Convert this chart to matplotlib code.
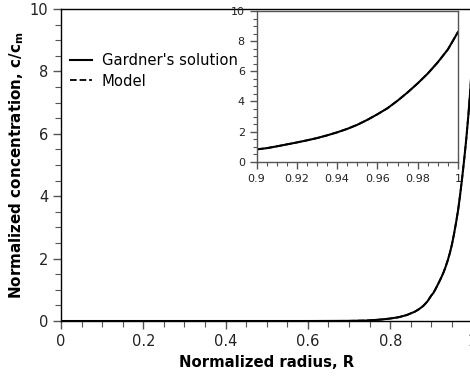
import matplotlib
matplotlib.use('Agg')
import matplotlib.pyplot as plt
from matplotlib.ticker import MultipleLocator, FuncFormatter

plt.rcParams['font.family'] = ['DejaVu Sans']

# 径向归一化浓度分布 (读数)
r_gardner = [0.0, 0.1, 0.2, 0.3, 0.4, 0.5, 0.6, 0.70, 0.72, 0.74, 0.76, 0.78,
             0.80, 0.82, 0.84, 0.86, 0.87, 0.88, 0.89, 0.895, 0.900,
             0.905, 0.910, 0.915, 0.920, 0.925, 0.930, 0.935, 0.940, 0.945,
             0.950, 0.955, 0.960, 0.965, 0.970, 0.975, 0.980, 0.985, 0.990,
             0.995, 1.000]
c_gardner = [0.0, 0.0, 0.0, 0.0, 0.0, 0.0, 0.0, 0.005, 0.01, 0.015, 0.03, 0.05,
             0.08, 0.12, 0.19, 0.30, 0.38, 0.48, 0.62, 0.72, 0.82,
             0.90, 1.02, 1.15, 1.28, 1.42, 1.57, 1.75, 1.95, 2.18,
             2.45, 2.78, 3.15, 3.55, 4.05, 4.60, 5.20, 5.85, 6.60,
             7.45, 8.60]

r_model = list(r_gardner)
c_model = list(c_gardner)

x_ticks = [0, 0.2, 0.4, 0.6, 0.8, 1.0]
y_ticks = [0, 2, 4, 6, 8, 10]
inset_x_ticks = [0.9, 0.92, 0.94, 0.96, 0.98, 1.0]


def fmt(v, pos):
    return f'{v:g}'


fig = plt.figure(figsize=(4.7, 3.77), dpi=100)
ax = fig.add_axes([0.1298, 0.1485, 0.8755, 0.8276])

ax.plot(r_gardner, c_gardner, '-', color='black', lw=1.5, label="Gardner's solution")
ax.plot(r_model, c_model, '--', color='black', lw=1.3, label='Model')

ax.set_xlim(0, 1)
ax.set_ylim(0, 10)
ax.set_xticks(x_ticks)
ax.set_yticks(y_ticks)
ax.xaxis.set_major_formatter(FuncFormatter(fmt))
ax.xaxis.set_minor_locator(MultipleLocator(0.05))
ax.yaxis.set_minor_locator(MultipleLocator(0.5))
ax.tick_params(which='both', direction='out', color='#555555', labelcolor='#222222',
               labelsize=10.5)
ax.tick_params(which='major', length=5.5, width=1)
ax.tick_params(which='minor', length=4, width=0.8)
ax.spines['right'].set_visible(False)
for s in ['left', 'top', 'bottom']:
    ax.spines[s].set_color('black')
    ax.spines[s].set_linewidth(1.0)

ax.set_xlabel('Normalized radius, R', fontsize=10.7, fontweight='bold', labelpad=5)
ax.set_ylabel(r'Normalized concentration, c/c$_\mathbf{m}$', fontsize=10.9,
              fontweight='bold', labelpad=3)

ax.legend(loc='upper left', bbox_to_anchor=(-0.01, 0.90), frameon=False,
          fontsize=10.6, handlelength=1.5, handletextpad=0.65, labelspacing=0.35)

# 局部放大 R = 0.9 ~ 1
ins = fig.add_axes([0.546, 0.571, 0.4283, 0.3997])
ins.plot(r_gardner, c_gardner, '-', color='black', lw=1.5)
ins.plot(r_model, c_model, '--', color='black', lw=1.3)
ins.set_xlim(0.9, 1.0)
ins.set_ylim(0, 10)
ins.set_xticks(inset_x_ticks)
ins.set_yticks(y_ticks)
ins.xaxis.set_major_formatter(FuncFormatter(fmt))
ins.xaxis.set_minor_locator(MultipleLocator(0.005))
ins.yaxis.set_minor_locator(MultipleLocator(0.5))
ins.tick_params(which='both', direction='out', color='#555555', labelcolor='#222222',
                labelsize=8)
ins.tick_params(which='major', length=5, width=1)
ins.tick_params(which='minor', length=3, width=0.8)
for s in ins.spines.values():
    s.set_color('#555555')
    s.set_linewidth(1.0)

fig.savefig('out.png', dpi=100, facecolor='white')
